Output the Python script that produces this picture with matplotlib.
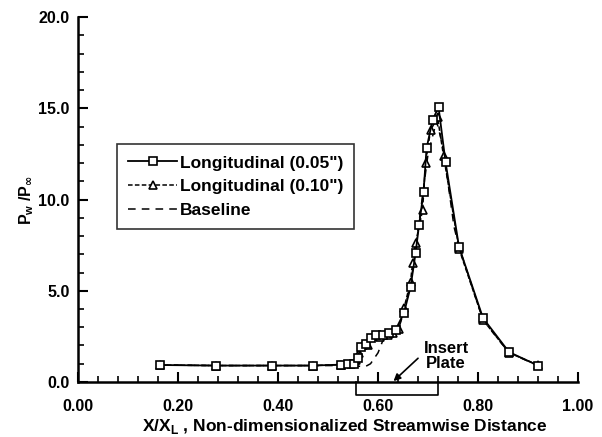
import matplotlib
matplotlib.use("Agg")
import matplotlib.pyplot as plt
from matplotlib.lines import Line2D
from matplotlib.ticker import MultipleLocator, FormatStrFormatter

plt.rcParams['font.family'] = ['Liberation Sans', 'DejaVu Sans']
plt.rcParams['font.weight'] = 'bold'

# Longitudinal (0.05") - squares
x_sq = [0.164, 0.275, 0.387, 0.469, 0.525, 0.539, 0.551, 0.559, 0.565, 0.575, 0.585,
        0.595, 0.609, 0.622, 0.635, 0.652, 0.665, 0.675, 0.682, 0.691, 0.697, 0.709,
        0.721, 0.735, 0.762, 0.81, 0.862, 0.92]
y_sq = [0.93, 0.9, 0.9, 0.9, 0.95, 1.0, 1.0, 1.3, 1.9, 2.1, 2.4, 2.55, 2.6, 2.7, 2.85,
        3.8, 5.2, 7.05, 8.6, 10.4, 12.8, 14.35, 15.07, 12.05, 7.4, 3.5, 1.64, 0.9]

# Longitudinal (0.10") - triangles
x_tri = [0.164, 0.275, 0.387, 0.469, 0.525, 0.545, 0.555, 0.561, 0.569, 0.579, 0.591,
         0.603, 0.619, 0.629, 0.641, 0.652, 0.665, 0.669, 0.675, 0.689, 0.695, 0.705,
         0.719, 0.731, 0.762, 0.81, 0.862, 0.92]
y_tri = [0.93, 0.9, 0.9, 0.9, 0.95, 1.0, 1.2, 1.6, 2.0, 2.0, 2.5, 2.45, 2.6, 2.7, 2.9,
         4.05, 5.5, 6.5, 7.6, 9.4, 12.0, 13.8, 14.5, 12.4, 7.3, 3.4, 1.6, 0.93]

# Baseline - dashed
x_base = [0.164, 0.275, 0.387, 0.469, 0.525, 0.575, 0.585, 0.60, 0.61, 0.625, 0.64,
          0.652, 0.665, 0.675, 0.689, 0.70, 0.717, 0.729, 0.739, 0.752, 0.762, 0.81,
          0.862, 0.92]
y_base = [0.93, 0.9, 0.9, 0.9, 0.9, 0.85, 1.0, 1.6, 2.3, 2.6, 2.8, 3.9, 5.3, 7.3, 10.2,
          12.5, 14.3, 13.0, 11.1, 8.5, 7.4, 3.4, 1.6, 0.9]

labels = ['Longitudinal (0.05")', 'Longitudinal (0.10")', 'Baseline']
plate_range = [0.555, 0.719]

fig = plt.figure(figsize=(6.02, 4.37), dpi=100)
ax = fig.add_axes([0.1296, 0.1259, 0.8306, 0.835])

ax.plot(x_base, y_base, color='black', lw=1.1, ls=(0, (5, 4)))
ax.plot(x_tri, y_tri, color='black', lw=1.1, ls=(0, (3, 1.5)),
        marker='^', ms=6, mfc='white', mec='black', mew=1.2)
ax.plot(x_sq, y_sq, color='black', lw=1.3, ls='-',
        marker='s', ms=5.5, mfc='white', mec='black', mew=1.2)

ax.set_xlim(0, 1.0)
ax.set_ylim(0, 20)
ax.spines['top'].set_visible(False)
ax.spines['right'].set_visible(False)
for s in ['left', 'bottom']:
    ax.spines[s].set_linewidth(1.8)

ax.xaxis.set_major_locator(MultipleLocator(0.2))
ax.xaxis.set_minor_locator(MultipleLocator(0.04))
ax.yaxis.set_major_locator(MultipleLocator(5))
ax.yaxis.set_minor_locator(MultipleLocator(1))
ax.xaxis.set_major_formatter(FormatStrFormatter('%.2f'))
ax.yaxis.set_major_formatter(FormatStrFormatter('%.1f'))
ax.tick_params(which='major', direction='in', length=7, width=1.5, labelsize=11.5)
ax.tick_params(which='minor', direction='in', length=4, width=1.2)
ax.tick_params(axis='x', which='major', pad=12)
ax.tick_params(axis='y', which='major', pad=6)
for lab in ax.get_xticklabels() + ax.get_yticklabels():
    lab.set_fontweight('bold')

ax.set_xlabel('X/X$_{\\mathregular{L}}$ , Non-dimensionalized Streamwise Distance',
              fontsize=12.5, fontweight='bold', labelpad=0)
ax.xaxis.set_label_coords(0.534, -0.095)
ax.set_ylabel('P$_{\\mathregular{w}}$ /P$_{\\infty}$', fontsize=11.5, fontweight='bold',
              labelpad=2)

# Insert plate bracket below axis
ax.plot([plate_range[0], plate_range[0], plate_range[1], plate_range[1]],
        [0, -0.7, -0.7, 0], color='black', lw=1.2, clip_on=False)
ax.text(0.736, 1.42, 'Insert\nPlate', ha='center', va='center', fontsize=12,
        fontweight='bold', linespacing=1.05)
ax.annotate('', xy=(0.631, 0.05), xytext=(0.68, 1.3),
            arrowprops=dict(arrowstyle='-|>', color='black', lw=1.2,
                            shrinkA=0, shrinkB=0, mutation_scale=10))

handles = [
    Line2D([], [], color='black', lw=1.3, ls='-', marker='s', ms=5.5,
           mfc='white', mec='black', mew=1.2),
    Line2D([], [], color='black', lw=1.1, ls=(0, (3, 1.5)), marker='^', ms=6,
           mfc='white', mec='black', mew=1.2),
    Line2D([], [], color='black', lw=1.1, ls=(0, (5, 4))),
]
leg = ax.legend(handles, labels, loc='upper left', bbox_to_anchor=(0.078, 0.652),
                frameon=True, fancybox=False, handlelength=2.8,
                handletextpad=0.15, labelspacing=0.5, borderpad=0.65,
                borderaxespad=0, prop={'weight': 'bold', 'size': 12.5})
leg.get_frame().set_edgecolor('black')
leg.get_frame().set_linewidth(1.2)

fig.savefig('out.png', dpi=100)
